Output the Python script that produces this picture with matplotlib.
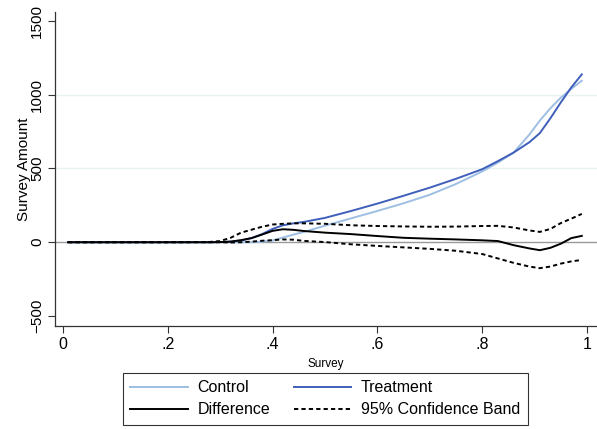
import matplotlib
matplotlib.use("Agg")
import matplotlib.pyplot as plt
from matplotlib.lines import Line2D

plt.rcParams['font.family'] = ['Liberation Sans', 'DejaVu Sans']

survey = [0.01, 0.10, 0.20, 0.28, 0.30, 0.32, 0.34, 0.36, 0.38, 0.40, 0.42, 0.44, 0.46,
          0.50, 0.55, 0.60, 0.65, 0.70, 0.75, 0.80, 0.83, 0.86, 0.89, 0.91, 0.93, 0.95,
          0.97, 0.99]
control = [0, 0, 0, 0, 0, 0, 0, 0, 3, 12, 32, 52, 70,
           112, 162, 212, 264, 322, 395, 480, 540, 608, 730, 825, 908, 980,
           1040, 1095]
treatment = [0, 0, 0, 0, 1, 4, 12, 28, 55, 90, 115, 128, 138,
             165, 212, 262, 315, 370, 430, 495, 550, 608, 678, 740, 840, 948,
             1050, 1138]
difference = [0, 0, 0, 0, 1, 4, 14, 28, 52, 77, 88, 84, 76,
              65, 55, 42, 30, 24, 19, 13, 8, -20, -42, -54, -38, -10,
              28, 43]
ci_upper = [0, 0, 0, 2, 8, 30, 65, 85, 105, 120, 125, 128, 128,
            125, 115, 110, 107, 105, 106, 110, 111, 100, 80, 70, 90, 130,
            160, 192]
ci_lower = [0, 0, 0, 0, 0, -2, 0, 4, 10, 14, 19, 17, 9,
            1, -14, -25, -35, -45, -58, -80, -110, -140, -165, -176, -165, -145,
            -130, -120]

xticks = [0, 0.2, 0.4, 0.6, 0.8, 1.0]
xticklabels = ["0", ".2", ".4", ".6", ".8", "1"]
yticks = [-500, 0, 500, 1000, 1500]
yticklabels = ["\u2212500", "0", "500", "1000", "1500"]

c_control = "#9dbfe3"
c_treat = "#3f5fba"

fig = plt.figure(figsize=(5.97, 4.29), dpi=100)
ax = fig.add_axes([55/597, 1-326/429, (597-55)/597, (326-12)/429])

for g in [500, 1000]:
    ax.axhline(g, color="#eaf2f3", lw=1.0, zorder=0)
ax.axhline(0, color="#9a9a9a", lw=1.0, zorder=1)

dash = (0, (2.2, 1.6))
ax.plot(survey, control, color=c_control, lw=1.4, zorder=3)
ax.plot(survey, treatment, color=c_treat, lw=1.4, zorder=3)
ax.plot(survey, difference, color="black", lw=1.4, zorder=4)
ax.plot(survey, ci_upper, color="black", lw=1.4, linestyle=dash, zorder=4)
ax.plot(survey, ci_lower, color="black", lw=1.4, linestyle=dash, zorder=4)

ax.set_xlim(-0.015, 1.019)
ax.set_ylim(-568, 1561)
ax.set_xticks(xticks)
ax.set_xticklabels(xticklabels, fontsize=11.5)
ax.set_yticks(yticks)
ax.set_yticklabels(yticklabels, fontsize=11, rotation=90, va="center")
ax.tick_params(axis="both", length=5, width=0.8, color="#333333")
ax.tick_params(axis="x", pad=3)
ax.tick_params(axis="y", pad=3)
for s in ["top", "right"]:
    ax.spines[s].set_visible(False)
for s in ["left", "bottom"]:
    ax.spines[s].set_color("#333333")
    ax.spines[s].set_linewidth(0.9)

ax.set_xlabel("Survey", fontsize=8.5, labelpad=4)
ax.set_ylabel("Survey Amount", fontsize=11, labelpad=-1)

handles = [
    Line2D([], [], color=c_control, lw=1.4),
    Line2D([], [], color="black", lw=1.4),
    Line2D([], [], color=c_treat, lw=1.4),
    Line2D([], [], color="black", lw=1.4, linestyle=dash),
]
labels = ["Control", "Difference", "Treatment", "95% Confidence Band"]
leg = fig.legend(handles, labels, ncol=2, loc="upper left",
                 bbox_to_anchor=(123/597, 1-373/429), bbox_transform=fig.transFigure,
                 fontsize=11.5, frameon=True, fancybox=False, edgecolor="black",
                 handlelength=3.6, handletextpad=0.6, columnspacing=1.5,
                 labelspacing=0.45, borderpad=0.45, borderaxespad=0)
leg.get_frame().set_linewidth(0.8)

fig.savefig("out.png", dpi=100)
